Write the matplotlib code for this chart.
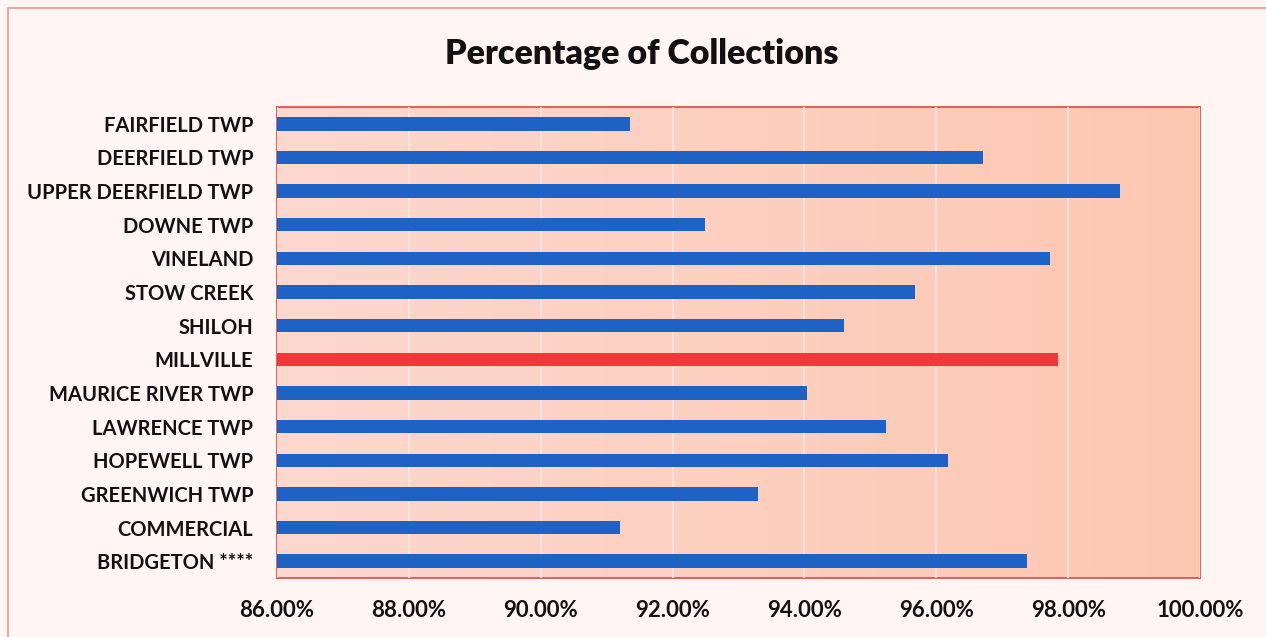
import numpy as np
import matplotlib.pyplot as plt
from matplotlib.colors import LinearSegmentedColormap
from matplotlib.patches import Rectangle
from matplotlib.ticker import FuncFormatter

# categories top to bottom as in the chart
towns = ['FAIRFIELD TWP', 'DEERFIELD TWP', 'UPPER DEERFIELD TWP', 'DOWNE TWP',
         'VINELAND', 'STOW CREEK', 'SHILOH', 'MILLVILLE', 'MAURICE RIVER TWP',
         'LAWRENCE TWP', 'HOPEWELL TWP', 'GREENWICH TWP', 'COMMERCIAL',
         'BRIDGETON ****']
pct = [91.36, 96.71, 98.79, 92.49, 97.73, 95.67, 94.60, 97.85, 94.04,
       95.23, 96.18, 93.30, 91.20, 97.38]
highlight = 'MILLVILLE'

plt.rcParams['font.family'] = ['Lato', 'DejaVu Sans']

fig = plt.figure(figsize=(12.66, 6.37), dpi=100, facecolor='#fff6f4')
ax = fig.add_axes([277 / 1266, 1 - 578 / 637, 923 / 1266, 471 / 637])

# outer chart border
fig.patches.append(Rectangle((8 / 1266, -0.01), 1.0, 1 - 8 / 637 + 0.01,
                             transform=fig.transFigure, fill=False,
                             edgecolor='#e99a92', linewidth=1.2))

y = np.arange(len(towns))
colors = ['#f2373a' if t == highlight else '#1e62c6' for t in towns]

# gradient plot background
grad = LinearSegmentedColormap.from_list('bg', ['#fdd8cf', '#fcc7b1'])
ax.imshow(np.linspace(0, 1, 256).reshape(1, -1), cmap=grad, aspect='auto',
          extent=[86, 100, len(towns) - 0.5, -0.5], zorder=0)

ax.barh(y, [p - 86 for p in pct], left=86, height=0.4, color=colors, zorder=3)

ax.set_xlim(86, 100)
ax.set_ylim(len(towns) - 0.5, -0.5)
ax.set_xticks(np.arange(86, 100.1, 2))
ax.xaxis.set_major_formatter(FuncFormatter(lambda v, _: f'{v:.2f}%'))
ax.set_yticks(y)
ax.set_yticklabels(towns)
ax.grid(axis='x', color='#f3e6e3', linewidth=1.3, zorder=1)
ax.set_axisbelow(False)
ax.tick_params(length=0, colors='#111111')
ax.tick_params(axis='y', pad=17, labelsize=14.5)
ax.tick_params(axis='x', pad=16, labelsize=16)
for lab in ax.get_xticklabels() + ax.get_yticklabels():
    lab.set_fontweight('bold')
for s in ax.spines.values():
    s.set_color('#e0483f')
    s.set_linewidth(1.2)

fig.text(0.507, 1 - 54 / 637, 'Percentage of Collections', ha='center',
         va='center', fontsize=24.5, fontweight='heavy', color='#111111')

fig.savefig('out.png', dpi=100, facecolor=fig.get_facecolor())
